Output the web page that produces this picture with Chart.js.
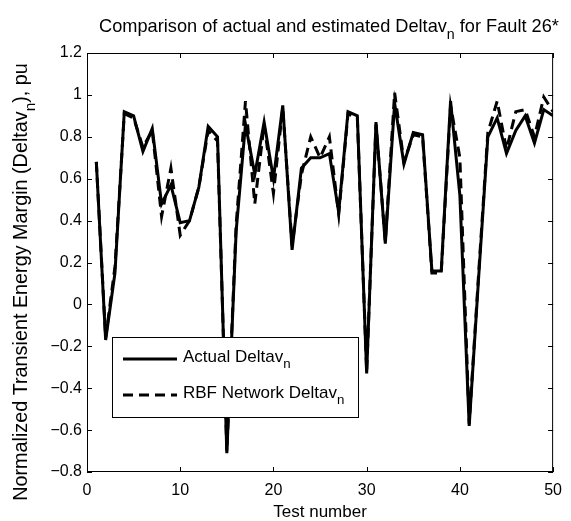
<!DOCTYPE html>
<html>
<head>
<meta charset="utf-8">
<script src="https://cdn.jsdelivr.net/npm/chart.js@4/dist/chart.umd.min.js"></script>
<style>
  body { margin: 0; background: #fff; }
  canvas { display: block; }
</style>
</head>
<body>
<canvas id="chart" width="571" height="521"></canvas>
<script>
// Test cases on the x axis
const testNumbers = [1, 2, 3, 4, 5, 6, 7, 8, 9, 10,
    11, 12, 13, 14, 15, 16, 17, 18, 19, 20,
    21, 22, 23, 24, 25, 26, 27, 28, 29, 30,
    31, 32, 33, 34, 35, 36, 37, 38, 39, 40,
    41, 42, 43, 44, 45, 46, 47, 48, 49, 50];

// Actual normalized energy margin
const actualDeltav = [0.68, -0.17, 0.15, 0.92, 0.90, 0.73, 0.84, 0.48, 0.57, 0.39,
    0.40, 0.56, 0.85, 0.80, -0.71, 0.35, 0.86, 0.62, 0.87, 0.60,
    0.95, 0.26, 0.65, 0.70, 0.70, 0.72, 0.44, 0.92, 0.90, -0.33,
    0.87, 0.29, 0.96, 0.67, 0.82, 0.81, 0.16, 0.16, 0.97, 0.52,
    -0.58, 0.12, 0.80, 0.89, 0.72, 0.83, 0.90, 0.77, 0.93, 0.90];

// RBF network estimate
const rbfDeltav = [0.68, -0.16, 0.18, 0.91, 0.89, 0.75, 0.83, 0.42, 0.65, 0.33,
    0.40, 0.56, 0.83, 0.78, -0.70, 0.38, 0.97, 0.48, 0.86, 0.53,
    0.94, 0.28, 0.62, 0.80, 0.70, 0.80, 0.43, 0.91, 0.89, -0.32,
    0.86, 0.30, 1.01, 0.68, 0.81, 0.80, 0.15, 0.15, 0.95, 0.70,
    -0.57, 0.14, 0.82, 0.97, 0.74, 0.92, 0.93, 0.80, 0.99, 0.92];

const xTicks = [0, 10, 20, 30, 40, 50];
const yTicks = [-0.8, -0.6, -0.4, -0.2, 0, 0.2, 0.4, 0.6, 0.8, 1, 1.2];

const FONT = '"Liberation Sans", Arial, Helvetica, sans-serif';
const DASH = [10, 6];

// draws a line of text where some pieces are subscripts
function drawSubText(ctx, parts, x, y, size, align) {
    const widths = parts.map(p => {
        ctx.font = (p[1] ? size * 0.78 : size) + 'px ' + FONT;
        return ctx.measureText(p[0]).width;
    });
    const total = widths.reduce((a, b) => a + b, 0);
    let cx = align === 'center' ? x - total / 2 : x;
    ctx.textAlign = 'left';
    ctx.textBaseline = 'alphabetic';
    parts.forEach((p, i) => {
        ctx.font = (p[1] ? size * 0.78 : size) + 'px ' + FONT;
        ctx.fillText(p[0], cx, p[1] ? y + size * 0.38 : y);
        cx += widths[i];
    });
}

const framePlugin = {
    id: 'frame',
    afterDraw(chart) {
        const ctx = chart.ctx;
        const { left, right, top, bottom } = chart.chartArea;
        const xs = chart.scales.x, ys = chart.scales.y;
        ctx.save();
        ctx.strokeStyle = '#000';
        ctx.fillStyle = '#000';
        ctx.lineWidth = 1;
        ctx.setLineDash([]);
        ctx.strokeRect(left + 0.5, top + 0.5, right - left - 1, bottom - top - 1);

        // inward ticks on all four sides
        ctx.beginPath();
        xTicks.forEach(v => {
            const px = Math.round(xs.getPixelForValue(v)) + 0.5;
            ctx.moveTo(px, bottom); ctx.lineTo(px, bottom - 5);
            ctx.moveTo(px, top); ctx.lineTo(px, top + 5);
        });
        yTicks.forEach(v => {
            const py = Math.round(ys.getPixelForValue(v)) + 0.5;
            ctx.moveTo(left, py); ctx.lineTo(left + 5, py);
            ctx.moveTo(right, py); ctx.lineTo(right - 5, py);
        });
        ctx.stroke();

        // title
        drawSubText(ctx, [['Comparison of actual and estimated Deltav', false], ['n', true], [' for Fault 26*', false]],
            329, 32, 18.2, 'center');

        // x axis title
        drawSubText(ctx, [['Test number', false]], (left + right) / 2, 517, 17, 'center');

        // y axis title
        ctx.save();
        ctx.translate(27, 282);
        ctx.rotate(-Math.PI / 2);
        drawSubText(ctx, [['Normalized Transient Energy Margin (Deltav', false], ['n', true], ['), pu', false]],
            0, 0, 19.8, 'center');
        ctx.restore();

        // legend
        const lx = 112, ly = 337, lw = 246, lh = 80;
        ctx.fillStyle = '#fff';
        ctx.fillRect(lx, ly, lw, lh);
        ctx.strokeRect(lx + 0.5, ly + 0.5, lw, lh);
        ctx.lineWidth = 3;
        ctx.beginPath();
        ctx.moveTo(123, 359); ctx.lineTo(177, 359);
        ctx.stroke();
        ctx.setLineDash(DASH);
        ctx.beginPath();
        ctx.moveTo(123, 395); ctx.lineTo(177, 395);
        ctx.stroke();
        ctx.setLineDash([]);
        ctx.fillStyle = '#000';
        drawSubText(ctx, [['Actual Deltav', false], ['n', true]], 183, 362, 17, 'left');
        drawSubText(ctx, [['RBF Network Deltav', false], ['n', true]], 183, 398, 17, 'left');
        ctx.restore();
    }
};

function fmtTick(v) {
    const s = Number(v.toFixed(1)).toString();
    return s.replace('-', '\u2212');
}

new Chart(document.getElementById('chart').getContext('2d'), {
    type: 'line',
    data: {
        datasets: [
            {
                label: 'Actual Deltav',
                data: testNumbers.map((n, i) => ({ x: n, y: actualDeltav[i] })),
                borderColor: '#000',
                borderWidth: 3,
                pointRadius: 0,
                tension: 0,
                fill: false
            },
            {
                label: 'RBF Network Deltav',
                data: testNumbers.map((n, i) => ({ x: n, y: rbfDeltav[i] })),
                borderColor: '#000',
                borderWidth: 3,
                borderDash: DASH,
                pointRadius: 0,
                tension: 0,
                fill: false
            }
        ]
    },
    options: {
        responsive: false,
        animation: false,
        devicePixelRatio: 1,
        layout: { padding: { left: 0, right: 12, top: 53, bottom: 0 } },
        plugins: {
            legend: { display: false },
            title: { display: false },
            tooltip: { enabled: false }
        },
        scales: {
            x: {
                type: 'linear',
                min: 0,
                max: 50,
                grid: { display: false, drawTicks: false },
                border: { display: false },
                afterBuildTicks: scale => { scale.ticks = xTicks.map(v => ({ value: v })); },
                afterFit: scale => { scale.height = 49; },
                ticks: {
                    color: '#000',
                    padding: 9,
                    maxRotation: 0,
                    font: { family: FONT, size: 16 },
                    callback: fmtTick
                }
            },
            y: {
                type: 'linear',
                min: -0.8,
                max: 1.2,
                grid: { display: false, drawTicks: false },
                border: { display: false },
                afterBuildTicks: scale => { scale.ticks = yTicks.map(v => ({ value: v })); },
                afterFit: scale => { scale.width = 87; },
                ticks: {
                    color: '#000',
                    padding: 5,
                    font: { family: FONT, size: 16 },
                    callback: fmtTick
                }
            }
        }
    },
    plugins: [framePlugin]
});
</script>
</body>
</html>
